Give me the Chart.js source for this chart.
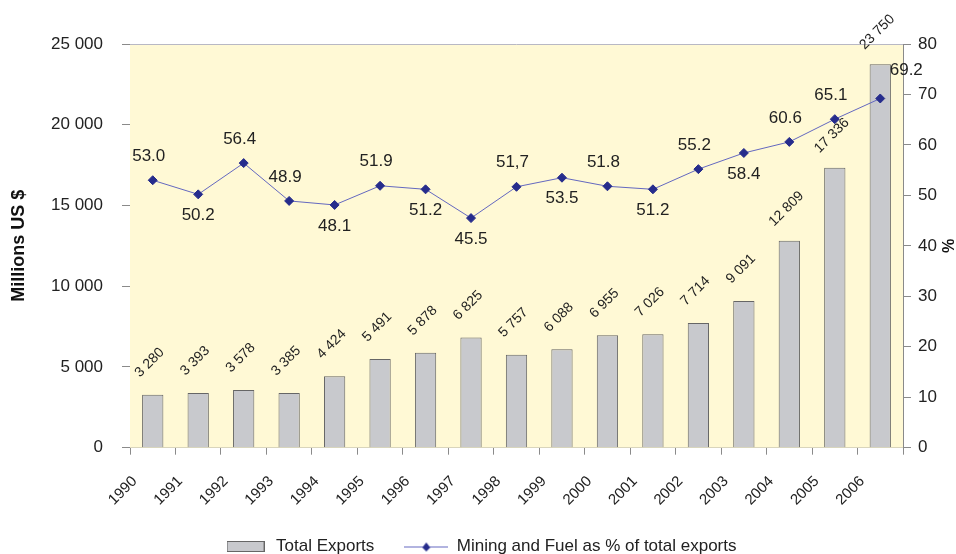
<!DOCTYPE html>
<html lang="en">
<head>
<meta charset="UTF-8">
<title>Total exports and mining share</title>
<script src="https://cdn.jsdelivr.net/npm/chart.js"></script>
<style>
  body { margin: 0; background: #fff; }
  #wrap { width: 956px; height: 554px; }
</style>
</head>
<body>
<div id="wrap"><canvas id="exportsChart"></canvas></div>
<script>
// data
const years = ['1990', '1991', '1992', '1993', '1994', '1995', '1996', '1997', '1998',
               '1999', '2000', '2001', '2002', '2003', '2004', '2005', '2006'];
const totalExports = [3280, 3393, 3578, 3385, 4424, 5491, 5878, 6825, 5757,
                      6088, 6955, 7026, 7714, 9091, 12809, 17336, 23750];
const miningShare = [53.0, 50.2, 56.4, 48.9, 48.1, 51.9, 51.2, 45.5, 51.7,
                     53.5, 51.8, 51.2, 55.2, 58.4, 60.6, 65.1, 69.2];
const shareLabels = ['53.0', '50.2', '56.4', '48.9', '48.1', '51.9', '51.2', '45.5', '51,7',
                     '53.5', '51.8', '51.2', '55.2', '58.4', '60.6', '65.1', '69.2'];
const leftTicks = [0, 5000, 10000, 15000, 20000, 25000];
const rightTicks = [0, 10, 20, 30, 40, 50, 60, 70, 80];

// where each % label sits relative to its point
const labelSide = ['up', 'down', 'up', 'up', 'down', 'up', 'down', 'down', 'up',
                   'down', 'up', 'down', 'up', 'down', 'up', 'up', 'right'];

const FONT = '"Liberation Sans", Arial, sans-serif';
const barFill = '#c8c9cd';
const barEdge = '#666666';
const lineColor = '#6468c0';
const markColor = '#262c8c';
const axisGrey = '#8a8a8a';

const fmt = v => String(v).replace(/\B(?=(\d{3})+(?!\d))/g, ' ');

function barSwatch() {
  const c = document.createElement('canvas');
  c.width = 38; c.height = 11;
  const g = c.getContext('2d');
  g.fillStyle = barFill;
  g.fillRect(0, 0, 38, 11);
  g.strokeStyle = barEdge;
  g.strokeRect(0.5, 0.5, 37, 10);
  return c;
}

function lineSwatch() {
  const c = document.createElement('canvas');
  c.width = 44; c.height = 12;
  const g = c.getContext('2d');
  g.strokeStyle = lineColor;
  g.beginPath(); g.moveTo(0, 6.5); g.lineTo(44, 6.5); g.stroke();
  g.fillStyle = markColor;
  g.beginPath(); g.moveTo(22, 2); g.lineTo(26, 7); g.lineTo(22, 11); g.lineTo(18, 7); g.closePath(); g.fill();
  return c;
}

const plotBackground = {
  id: 'plotBackground',
  beforeDatasetsDraw(chart) {
    const { ctx, chartArea: a } = chart;
    ctx.save();
    ctx.fillStyle = '#fff9d5';
    ctx.fillRect(a.left, a.top, a.right - a.left, a.bottom - a.top);
    ctx.strokeStyle = '#b8b8c4';
    ctx.lineWidth = 1;
    ctx.beginPath();
    ctx.moveTo(a.left, a.top + 0.5);
    ctx.lineTo(a.right, a.top + 0.5);
    ctx.stroke();
    ctx.restore();
  }
};

const valueLabels = {
  id: 'valueLabels',
  afterDatasetsDraw(chart) {
    const ctx = chart.ctx;
    ctx.save();
    ctx.fillStyle = '#222';
    ctx.textAlign = 'center';
    ctx.textBaseline = 'middle';

    ctx.font = '14px ' + FONT;
    chart.getDatasetMeta(1).data.forEach((bar, i) => {
      ctx.save();
      ctx.translate(bar.x - 3, bar.y - 32);
      ctx.rotate(-Math.PI / 4);
      ctx.fillText(fmt(totalExports[i]), 0, 0);
      ctx.restore();
    });

    ctx.font = '17px ' + FONT;
    chart.getDatasetMeta(0).data.forEach((pt, i) => {
      let dx = -4, dy = -24;
      if (labelSide[i] === 'down') { dx = 0; dy = 21; }
      if (labelSide[i] === 'right') { dx = 26; dy = -28; }
      ctx.fillText(shareLabels[i], pt.x + dx, pt.y + dy);
    });
    ctx.restore();
  }
};

const data = {
  labels: years,
  datasets: [
    {
      type: 'line',
      label: 'Mining and Fuel as % of total exports',
      data: miningShare,
      yAxisID: 'y1',
      order: 0,
      borderColor: lineColor,
      borderWidth: 1,
      pointStyle: 'rectRot',
      pointRadius: 4.5,
      pointBackgroundColor: markColor,
      pointBorderColor: markColor,
      tension: 0
    },
    {
      type: 'bar',
      label: 'Total Exports',
      data: totalExports,
      yAxisID: 'y',
      order: 1,
      backgroundColor: barFill,
      borderColor: barEdge,
      borderWidth: 1,
      categoryPercentage: 0.9,
      barPercentage: 0.52
    }
  ]
};

const config = {
  data: data,
  options: {
    responsive: true,
    maintainAspectRatio: false,
    animation: false,
    layout: { padding: { top: 44, left: 4, right: 0, bottom: -11 } },
    plugins: {
      tooltip: { enabled: false },
      legend: {
        position: 'bottom',
        labels: {
          usePointStyle: true,
          pointStyleWidth: 44,
          padding: 30,
          color: '#222',
          font: { family: FONT, size: 17 },
          generateLabels: () => [
            { text: 'Total Exports', pointStyle: barSwatch(), datasetIndex: 1, hidden: false, fontColor: '#222' },
            { text: 'Mining and Fuel as % of total exports', pointStyle: lineSwatch(), datasetIndex: 0, hidden: false, fontColor: '#222' }
          ]
        }
      }
    },
    scales: {
      x: {
        offset: true,
        afterFit: axis => {
          axis.height -= 19;
          axis.paddingLeft = 0;
          axis.paddingRight = 0;
        },
        grid: { offset: true, drawOnChartArea: false, tickLength: 7, color: axisGrey },
        border: { color: axisGrey },
        ticks: {
          minRotation: 45, maxRotation: 45, labelOffset: -18, padding: 18,
          color: '#222', font: { family: FONT, size: 15 }
        }
      },
      y: {
        position: 'left',
        min: 0, max: 25000,
        afterBuildTicks: axis => { axis.ticks = leftTicks.map(v => ({ value: v })); },
        afterFit: axis => { axis.width = 126; },
        grid: { drawOnChartArea: false, tickLength: 8, color: axisGrey },
        border: { color: axisGrey },
        ticks: { callback: v => fmt(v), padding: 19, color: '#222', font: { family: FONT, size: 17 } },
        title: { display: true, text: 'Millions US $', color: '#111', font: { family: FONT, size: 18, weight: 'bold' }, padding: { top: 4, bottom: 4 } }
      },
      y1: {
        position: 'right',
        min: 0, max: 80,
        afterBuildTicks: axis => { axis.ticks = rightTicks.map(v => ({ value: v })); },
        afterFit: axis => { axis.width = 53; },
        grid: { drawOnChartArea: false, tickLength: 8, color: axisGrey },
        border: { color: axisGrey },
        ticks: { padding: 7, color: '#222', font: { family: FONT, size: 17 } },
        title: { display: true, text: '%', color: '#111', font: { family: FONT, size: 16, weight: 'bold' }, padding: { top: 0, bottom: 0 } }
      }
    }
  },
  plugins: [plotBackground, valueLabels]
};

const ctx = document.querySelector('#exportsChart').getContext('2d');
const exportsChart = new Chart(ctx, config);
</script>
</body>
</html>
